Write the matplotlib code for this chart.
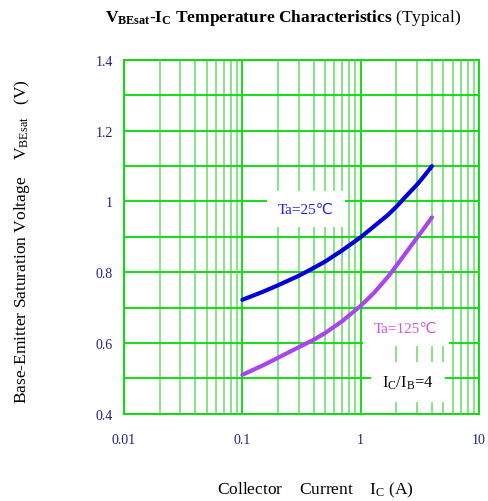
import matplotlib
matplotlib.use("Agg")
import matplotlib.pyplot as plt
from matplotlib.ticker import FixedLocator, NullFormatter, LogLocator

plt.rcParams['font.family'] = ['Liberation Serif', 'DejaVu Sans']
plt.rcParams['mathtext.fontset'] = 'custom'
plt.rcParams['mathtext.rm'] = 'Liberation Serif'
plt.rcParams['mathtext.it'] = 'Liberation Serif'
plt.rcParams['mathtext.bf'] = 'Liberation Serif:bold'

# Data
ic_25 = [0.1, 0.15, 0.2, 0.3, 0.4, 0.5, 0.7, 1.0, 1.3, 1.7, 2.0, 2.5, 3.0, 3.5, 4.0]
vbe_25 = [0.722, 0.745, 0.763, 0.790, 0.812, 0.830, 0.862, 0.899, 0.930, 0.962,
          0.985, 1.020, 1.048, 1.075, 1.100]
ic_125 = [0.1, 0.15, 0.2, 0.3, 0.4, 0.5, 0.7, 1.0, 1.3, 1.7, 2.0, 2.5, 3.0, 3.5, 4.0]
vbe_125 = [0.510, 0.537, 0.558, 0.588, 0.609, 0.628, 0.662, 0.705, 0.742, 0.787,
           0.818, 0.862, 0.898, 0.928, 0.955]

xticks = [0.01, 0.1, 1, 10]
xticklabels = ['0.01', '0.1', '1', '10']
yticks = [0.4, 0.6, 0.8, 1.0, 1.2, 1.4]
yticklabels = ['0.4', '0.6', '0.8', '1', '1.2', '1.4']

fig = plt.figure(figsize=(4.88, 5.02), dpi=100)
ax = fig.add_axes([124/488, 1-414.7/502, 355/488, 353.7/502])

ax.set_xscale('log')
ax.set_xlim(0.01, 10)
ax.set_ylim(0.4, 1.4)

major_c = '#00dd00'
minor_c = '#66dd66'
ax.xaxis.set_major_locator(FixedLocator(xticks))
ax.xaxis.set_minor_locator(LogLocator(base=10, subs=range(2, 10)))
ax.xaxis.set_minor_formatter(NullFormatter())
ax.yaxis.set_major_locator(FixedLocator(yticks))
ax.yaxis.set_minor_locator(FixedLocator([0.5, 0.7, 0.9, 1.1, 1.3]))
ax.grid(True, which='major', axis='both', color=major_c, lw=1.3, zorder=0)
ax.grid(True, which='minor', axis='both', color=minor_c, lw=1.1, zorder=0)
ax.grid(True, which='minor', axis='y', color=major_c, lw=1.3, zorder=0)
for s in ax.spines.values():
    s.set_color(major_c)
    s.set_linewidth(1.3)
ax.tick_params(which='both', length=0, labelsize=10, labelcolor='#22227f')
ax.set_xticklabels(xticklabels)
ax.set_yticklabels(yticklabels)
ax.tick_params(axis='x', pad=14)
ax.tick_params(axis='y', pad=8)

ax.plot(ic_25, vbe_25, color='#0000dd', lw=3, solid_capstyle='round', zorder=3)
ax.plot(ic_125, vbe_125, color='#aa44ee', lw=3, solid_capstyle='round', zorder=3)

bbox = dict(facecolor='white', edgecolor='none', pad=8)
ax.text(10**((305-360)/118.3), 0.4+(414.7-210)/353.7, 'Ta=25\u2103', color='#2222ee',
        fontsize=11, ha='center', va='center', bbox=bbox, zorder=2)
ax.text(10**((405-360)/118.3), 0.4+(414.7-329)/353.7, 'Ta=125\u2103', color='#cc55ee',
        fontsize=11, ha='center', va='center', bbox=bbox, zorder=2)
ax.text(10**((407-360)/118.3), 0.4+(414.7-383)/353.7, r'I$_\mathrm{C}$/I$_\mathrm{B}$=4', color='black',
        fontsize=12, ha='center', va='center', bbox=bbox, zorder=2)

fig.text(283/488, 1-18/502,
         r'$\mathbf{V_{BEsat}}$-$\mathbf{I_C}$ Temperature Characteristics $\mathrm{(Typical)}$',
         ha='center', va='center', fontsize=12.5, fontweight='bold')
fig.text(315/488, 1-490/502, r'Collector    Current    I$_\mathrm{C}$ (A)',
         ha='center', va='center', fontsize=12.5)
fig.text(22/488, 1-242/502, r'Base-Emitter Saturation Voltage    V$_\mathrm{BEsat}$   (V)',
         ha='center', va='center', fontsize=12.5, rotation=90)

fig.savefig('out.png', dpi=100)
